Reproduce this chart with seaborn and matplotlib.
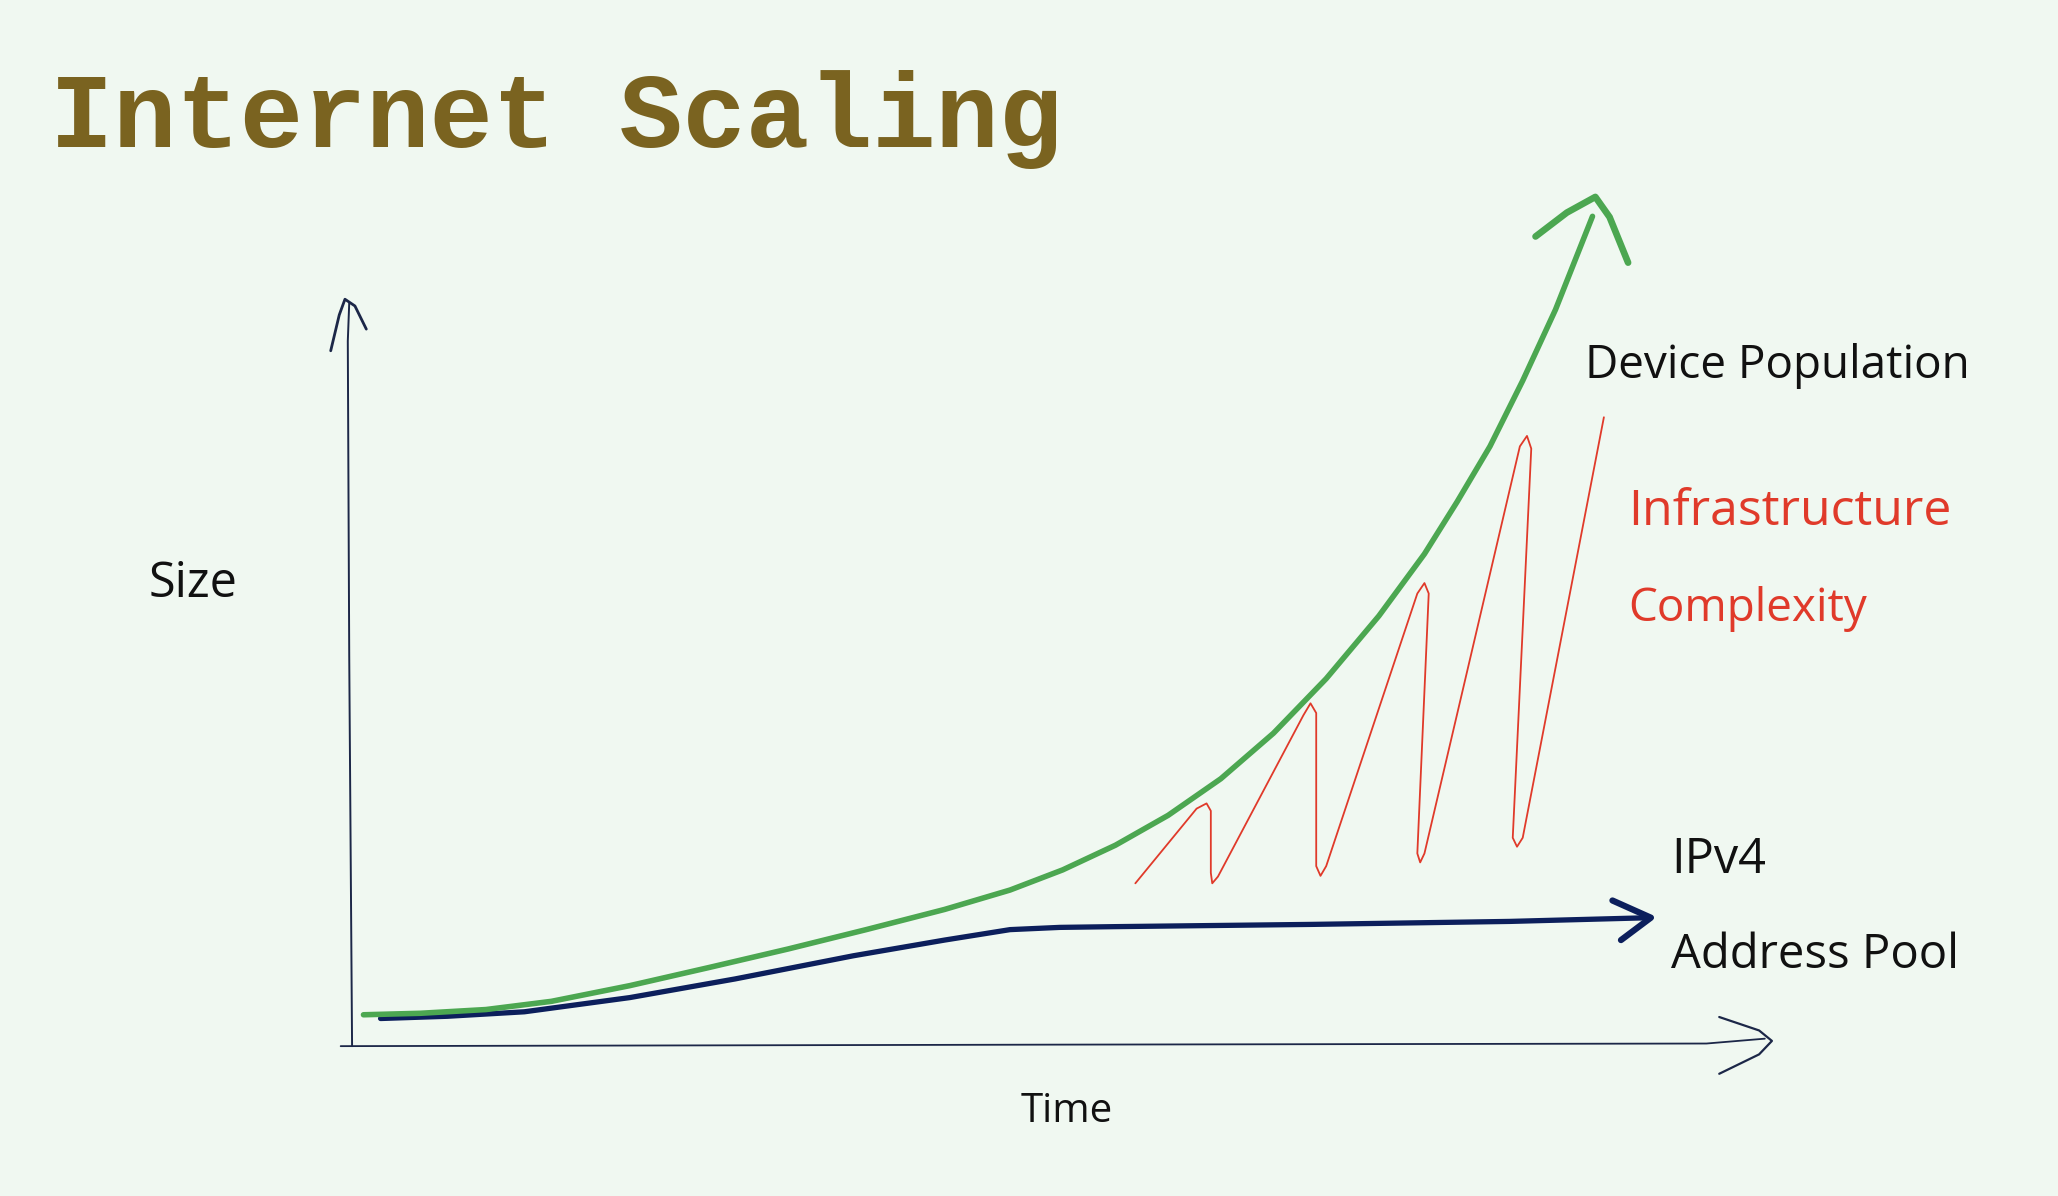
import numpy as np
import pandas as pd
import matplotlib
matplotlib.use("Agg")
import matplotlib.pyplot as plt
import seaborn as sns

# values, in abstract units: time 0-100, size 0-100
green_t = [1.1, 5.1, 9.7, 14.3, 19.8, 25.3, 30.9, 36.4, 41.9, 46.5, 50.2, 53.9,
           57.6, 61.3, 65.0, 68.7, 72.4, 75.6, 77.9, 80.2, 82.5, 84.8, 87.4]
green_s = [4.2, 4.4, 4.9, 6.0, 8.1, 10.5, 13.0, 15.6, 18.3, 20.9, 23.6, 26.9,
           30.9, 35.8, 41.9, 49.2, 57.6, 65.9, 72.9, 80.3, 89.1, 98.6, 111.1]
green_head_t = [83.4, 85.6, 87.6, 88.6, 89.9]
green_head_s = [108.4, 111.6, 113.7, 111.0, 104.9]

navy_t = [2.3, 7.0, 12.4, 19.8, 27.2, 35.5, 41.9, 46.5, 50.0, 53.9, 67.7, 81.6, 91.5]
navy_s = [3.7, 4.0, 4.6, 6.5, 9.0, 12.1, 14.2, 15.6, 15.9, 16.0, 16.3, 16.7, 17.2]
navy_head_t = [88.8, 91.5, 89.4]
navy_head_s = [19.5, 17.2, 14.2]

red_t = [55.3, 59.6, 60.3, 60.6, 60.6, 60.7, 61.1, 67.1, 67.6, 68.0, 68.0, 68.3,
         68.7, 75.1, 75.6, 75.9, 75.1, 75.3, 75.6, 82.3, 82.8, 83.1, 81.8, 82.1,
         82.5, 88.2]
red_s = [21.8, 31.8, 32.5, 31.5, 23.2, 21.8, 22.7, 44.3, 45.9, 44.6, 24.1, 22.8,
         24.1, 60.6, 62.0, 60.6, 25.8, 24.6, 25.8, 80.3, 81.7, 80.0, 27.9, 26.7,
         27.9, 84.2]

yaxis_t = [0.3, 0.1, 0.0, 0.1]
yaxis_s = [0.0, 52.2, 94.4, 99.5]
yaxis_head_t = [-1.2, -0.6, -0.2, 0.5, 1.3]
yaxis_head_s = [93.1, 97.9, 100.0, 99.1, 96.0]

xaxis_t = [-0.5, 49.3, 95.4, 99.5]
xaxis_s = [0.0, 0.2, 0.35, 1.0]
xaxis_head_t = [96.3, 99.1, 100.0, 99.1, 96.3]
xaxis_head_s = [3.9, 2.1, 0.7, -1.1, -3.7]

title = "Internet Scaling"
x_label = "Time"
y_label = "Size"

bg = "#f0f8f1"
green = "#4ca751"
navy = "#0c1f5c"
red = "#e03a2a"
axis_col = "#1c2748"
ink = "#111111"

sns.set_theme(style="white", rc={"figure.facecolor": bg, "axes.facecolor": bg})
plt.rcParams['font.family'] = ['Open Sans', 'DejaVu Sans']

fig = plt.figure(figsize=(20.58, 11.96), dpi=100)
ax = fig.add_axes([0.169, 0.1253, 0.692, 0.6245])
ax.set_xlim(0, 100)
ax.set_ylim(0, 100)
ax.axis("off")


def stroke(t, s, color, lw):
    df = pd.DataFrame({"t": t, "s": s})
    sns.lineplot(data=df, x="t", y="s", sort=False, estimator=None, color=color,
                 linewidth=lw, ax=ax, clip_on=False,
                 solid_capstyle="round", solid_joinstyle="round")


stroke(xaxis_t, xaxis_s, axis_col, 1.3)
stroke(xaxis_head_t, xaxis_head_s, axis_col, 1.6)
stroke(yaxis_t, yaxis_s, axis_col, 1.4)
stroke(yaxis_head_t, yaxis_head_s, axis_col, 2.0)

stroke(red_t, red_s, red, 1.3)
stroke(navy_t, navy_s, navy, 3.8)
stroke(navy_head_t, navy_head_s, navy, 4.5)
stroke(green_t, green_s, green, 4.0)
stroke(green_head_t, green_head_s, green, 4.8)

fig.text(0.0243, 0.877, title, fontsize=76, fontweight="bold",
         family=["Liberation Mono", "DejaVu Sans Mono"], color="#7a6320", va="baseline")

fig.text(0.072, 0.501, y_label, fontsize=35, color=ink, va="baseline")
fig.text(0.496, 0.062, x_label, fontsize=29, color=ink, va="baseline")
fig.text(0.770, 0.684, "Device Population", fontsize=33, color=ink, va="baseline")
fig.text(0.791, 0.561, "Infrastructure", fontsize=36, color=red, va="baseline")
fig.text(0.791, 0.481, "Complexity", fontsize=33, color=red, va="baseline")
fig.text(0.812, 0.270, "IPv4", fontsize=35, color=ink, va="baseline")
fig.text(0.812, 0.191, "Address Pool", fontsize=34, color=ink, va="baseline")

fig.savefig("out.png", dpi=100, facecolor=bg)
